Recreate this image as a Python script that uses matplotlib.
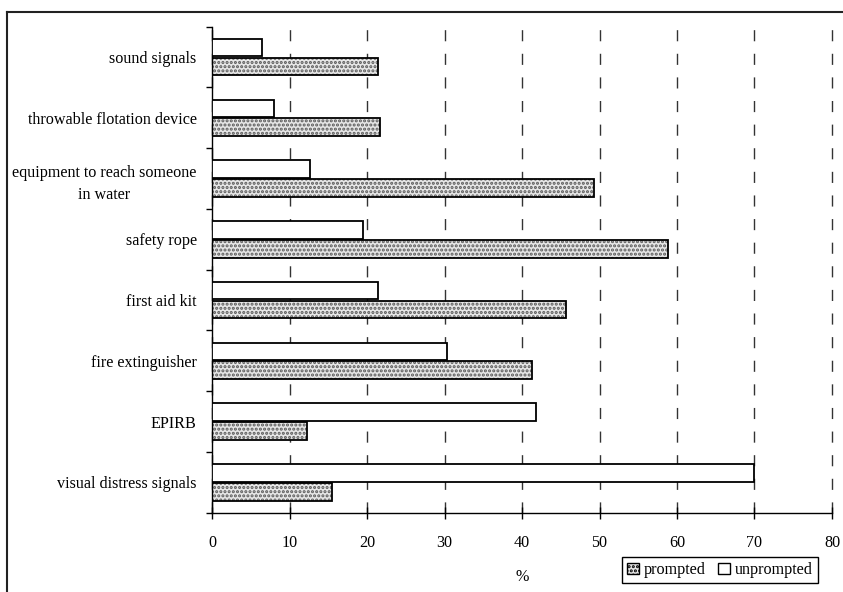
import matplotlib
matplotlib.use("Agg")
import matplotlib.pyplot as plt
from matplotlib.patches import Patch
from matplotlib.lines import Line2D
import numpy as np

categories = ["sound signals", "throwable flotation device",
              "equipment to reach someone\nin water", "safety rope",
              "first aid kit", "fire extinguisher", "EPIRB",
              "visual distress signals"]
unprompted = [6.4, 8.0, 12.6, 19.5, 21.4, 30.3, 41.8, 70.0]
prompted = [21.4, 21.7, 49.3, 58.8, 45.7, 41.3, 12.2, 15.5]
xticks = [0, 10, 20, 30, 40, 50, 60, 70, 80]

plt.rcParams['font.family'] = ['Liberation Serif', 'DejaVu Serif']
plt.rcParams['hatch.linewidth'] = 1.5

W, H = 843, 592
FS = 11.6
fig = plt.figure(figsize=(W / 100, H / 100), dpi=100)
ax = fig.add_axes([212 / W, 1 - 512.7 / H, (832 - 212) / W, (512.7 - 26.7) / H])

n = len(categories)
pos = np.arange(n)[::-1]  # sound signals at top
h = 0.29
off = 0.155

# prompted bars: dotted pattern
ax.barh(pos - off, prompted, height=h, color='#e6e6e6', edgecolor='#5a5a5a',
        hatch='....', linewidth=0, zorder=2)
ax.barh(pos - off, prompted, height=h, fill=False, edgecolor='black',
        linewidth=1.3, zorder=3)
ax.barh(pos + off, unprompted, height=h, color='white', edgecolor='black',
        linewidth=1.3, zorder=3)

ax.set_xlim(0, 80)
ax.set_ylim(-0.5, n - 0.5)
ax.set_xticks(xticks)
ax.set_xticklabels([str(t) for t in xticks], fontsize=FS)
ax.set_yticks(pos)
ax.set_yticklabels(categories, fontsize=FS, linespacing=1.55)
ax.tick_params(axis='y', which='major', length=0, pad=11)
ax.set_yticks(np.arange(n + 1) - 0.5, minor=True)
ax.tick_params(axis='y', which='minor', length=4, width=1, direction='out')
ax.tick_params(axis='x', which='major', length=8, width=1, direction='inout', pad=12)

for lab in ax.get_yticklabels():
    if '\n' in lab.get_text():
        lab.set_multialignment('center')

ax.grid(axis='x', color='#333333', linestyle=(0, (8, 9)), linewidth=1.0, zorder=0)
for gl in ax.get_xgridlines():
    gl.set_clip_on(False)
ax.set_axisbelow(True)
for s in ['top', 'right']:
    ax.spines[s].set_visible(False)
ax.spines['left'].set_linewidth(1)
ax.spines['bottom'].set_linewidth(1)

ax.set_xlabel('%', fontsize=FS, labelpad=13)

handles = [Patch(facecolor='#e6e6e6', edgecolor='black', hatch='....', linewidth=1),
           Patch(facecolor='white', edgecolor='black', linewidth=1)]
leg = fig.legend(handles, ['prompted', 'unprompted'], ncol=2, loc='lower right',
                 bbox_to_anchor=(818 / W, 9 / H), fontsize=FS, frameon=True,
                 fancybox=False, edgecolor='black', framealpha=1,
                 handlelength=0.75, handleheight=0.75, handletextpad=0.3,
                 columnspacing=0.8, borderpad=0.3, borderaxespad=0)
leg.get_frame().set_linewidth(1)

# figure frame (top and left edges)
fig.add_artist(Line2D([7 / W, 1], [1 - 12 / H, 1 - 12 / H], color='#222222', lw=1.5,
                      transform=fig.transFigure))
fig.add_artist(Line2D([7 / W, 7 / W], [0, 1 - 12 / H], color='#222222', lw=1.5,
                      transform=fig.transFigure))

fig.savefig('out.png', dpi=100)
